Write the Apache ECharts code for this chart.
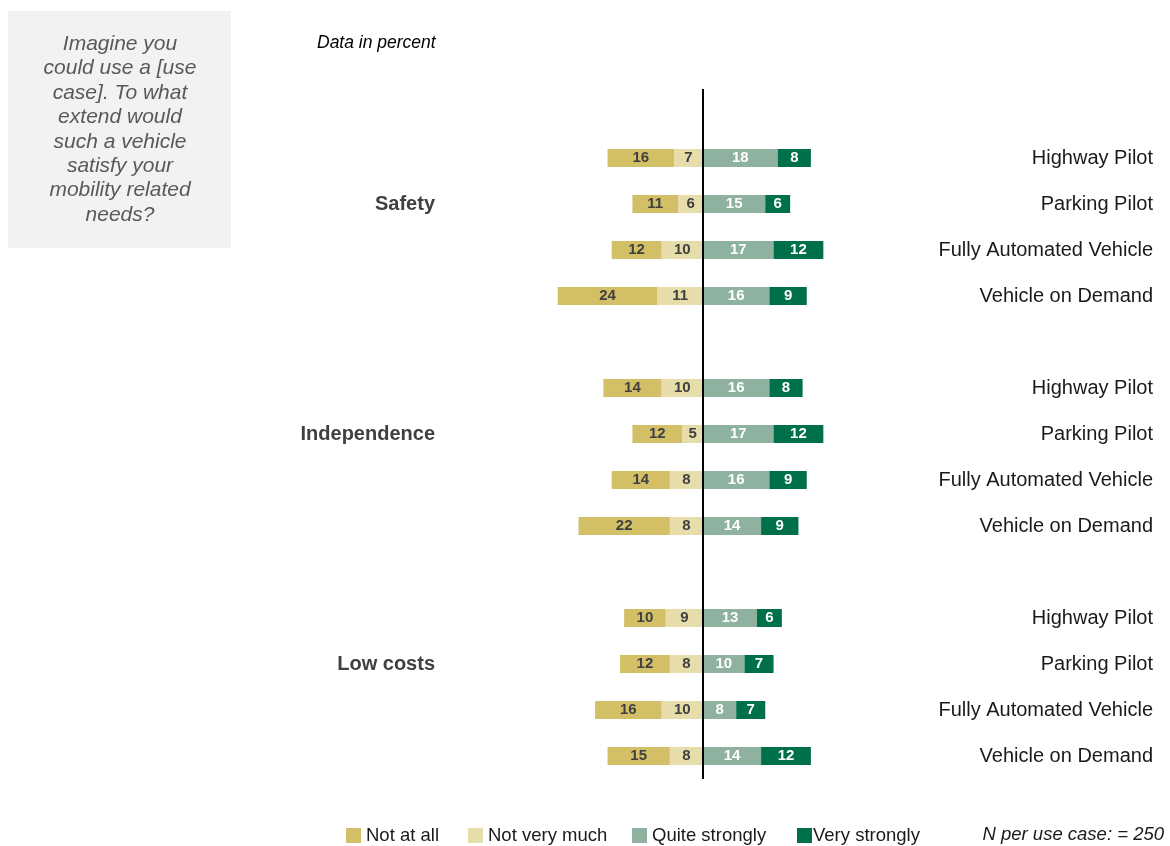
<!DOCTYPE html>
<html>
<head>
<meta charset="utf-8">
<script src="https://cdn.jsdelivr.net/npm/echarts@6/dist/echarts.min.js"></script>
<style>
  html, body { margin: 0; padding: 0; background: #fff; }
  #chart { width: 1170px; height: 846px; }
</style>
</head>
<body>
<div id="chart"></div>
<script>
// data (percent), order: Highway Pilot, Parking Pilot, Fully Automated Vehicle, Vehicle on Demand
var groups = ['Safety', 'Independence', 'Low costs'];
var useCases = ['Highway Pilot', 'Parking Pilot', 'Fully Automated Vehicle', 'Vehicle on Demand'];
var notAtAll      = [16, 11, 12, 24,  14, 12, 14, 22,  10, 12, 16, 15];
var notVeryMuch   = [7, 6, 10, 11,    10, 5, 8, 8,     9, 8, 10, 8];
var quiteStrongly = [18, 15, 17, 16,  16, 17, 16, 14,  13, 10, 8, 14];
var veryStrongly  = [8, 6, 12, 9,     8, 12, 9, 9,     6, 7, 7, 12];
var legendNames = ['Not at all', 'Not very much', 'Quite strongly', 'Very strongly'];

// build rows: one spacer on top, empty row between groups
var rows = [], groupLabel = {}, caseLabel = {};
var rowIdx = [];
rows.push('top');
groups.forEach(function (g, gi) {
  if (gi > 0) rows.push('gap' + gi);
  useCases.forEach(function (u, ui) {
    var key = g + '|' + u;
    rows.push(key);
    caseLabel[key] = u;
    if (ui === 1) groupLabel[key] = g;
    rowIdx.push(rows.length - 1);
  });
});

function toRows(values, sign) {
  var out = rows.map(function () { return '-'; });
  values.forEach(function (v, i) { out[rowIdx[i]] = v * sign; });
  return out;
}

var chart = echarts.init(document.getElementById('chart'));
var font = '"Liberation Sans", Arial, sans-serif';

function barSeries(name, values, sign, color, labelColor) {
  return {
    name: name,
    type: 'bar',
    stack: 'total',
    barWidth: 18,
    data: toRows(values, sign),
    itemStyle: { color: color },
    label: {
      show: true,
      position: 'inside',
      color: labelColor,
      fontWeight: 'bold',
      fontSize: 15,
      fontFamily: font,
      formatter: function (p) { return Math.abs(p.value); }
    }
  };
}

var s1 = barSeries('Not very much', notVeryMuch, -1, '#E7DDAA', '#404040');
s1.markLine = {
  silent: true,
  symbol: 'none',
  label: { show: false },
  lineStyle: { color: '#000', width: 2, type: 'solid' },
  data: [{ xAxis: 0 }]
};

var legendLeft = [346, 468, 632, 797];
var legends = legendNames.map(function (n, i) {
  return {
    data: [n],
    left: legendLeft[i], top: 826, padding: 0,
    icon: 'rect', itemWidth: 15, itemHeight: 15, itemGap: 0,
    textStyle: { fontSize: 18.5, color: '#1a1a1a', fontFamily: font, padding: [0, 0, 0, i === 3 ? -4 : 0] }
  };
});

var option = {
  animation: false,
  textStyle: { fontFamily: font },
  grid: { left: 537, right: 301, top: 89, bottom: 846 - 779 },
  xAxis: {
    type: 'value', min: -40, max: 40,
    show: false
  },
  yAxis: [
    {
      type: 'category', data: rows, inverse: true, position: 'left',
      axisLine: { show: false }, axisTick: { show: false }, splitLine: { show: false },
      axisLabel: {
        interval: 0, margin: 102, fontSize: 20, fontWeight: 'bold', color: '#404040',
        fontFamily: font,
        formatter: function (v) { return groupLabel[v] || ''; }
      }
    },
    {
      type: 'category', data: rows, inverse: true, position: 'right',
      axisLine: { show: false }, axisTick: { show: false }, splitLine: { show: false },
      axisLabel: {
        interval: 0, margin: 284, align: 'right', fontSize: 20, color: '#1a1a1a',
        fontFamily: font,
        formatter: function (v) { return caseLabel[v] || ''; }
      }
    }
  ],
  legend: legends,
  series: [
    s1,
    barSeries('Not at all', notAtAll, -1, '#D2BF66', '#404040'),
    barSeries('Quite strongly', quiteStrongly, 1, '#8EB29F', '#ffffff'),
    barSeries('Very strongly', veryStrongly, 1, '#00704A', '#ffffff')
  ],
  graphic: [
    {
      type: 'rect', left: 8, top: 11,
      shape: { width: 223, height: 237 },
      style: { fill: '#F2F2F2' }, silent: true
    },
    {
      type: 'text', x: 120, y: 32,
      style: {
        text: 'Imagine you\ncould use a [use\ncase]. To what\nextend would\nsuch a vehicle\nsatisfy your\nmobility related\nneeds?',
        textAlign: 'center', textVerticalAlign: 'top',
        font: 'italic 21px ' + font, lineHeight: 24.4, fill: '#595959'
      }
    },
    {
      type: 'text', x: 317, y: 43,
      style: {
        text: 'Data in percent', textVerticalAlign: 'middle',
        font: 'italic 17.5px ' + font, fill: '#000'
      }
    },
    {
      type: 'text', x: 1164, y: 835,
      style: {
        text: 'N per use case: = 250', textAlign: 'right', textVerticalAlign: 'middle',
        font: 'italic 18.5px ' + font, fill: '#1a1a1a'
      }
    }
  ]
};

chart.setOption(option);
</script>
</body>
</html>
